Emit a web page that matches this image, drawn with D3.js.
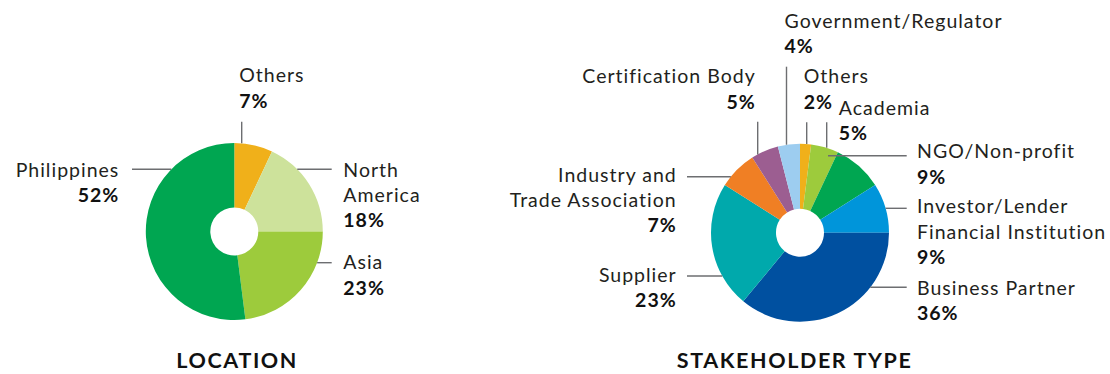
<!DOCTYPE html>
<html>
<head>
<meta charset="utf-8">
<script src="https://cdn.jsdelivr.net/npm/d3@7"></script>
<style>
  html, body { margin: 0; padding: 0; background: #fff; }
  svg { display: block; font-family: Lato, "Open Sans", sans-serif; }
  .lbl { font-size: 19.5px; letter-spacing: 1px; fill: #231f20; }
  .pct { font-size: 19.5px; letter-spacing: 1px; font-weight: 700; fill: #111; }
  .title { font-size: 21.5px; letter-spacing: 1.6px; font-weight: 700; fill: #111; }
  .leader { stroke: #6d6e71; stroke-width: 1.4; fill: none; }
</style>
</head>
<body>
<svg id="chart" width="1110" height="374"></svg>
<script>
// ---- data ----
const locationLabels = ["Others", "North\nAmerica", "Asia", "Philippines"];
const locationValues = [7, 18, 23, 52];
const locationColors = ["#f0b01a", "#cde29b", "#9dcb3c", "#00a651"];

const stakeholderLabels = [
  "Others", "Academia", "NGO/Non-profit", "Investor/Lender\nFinancial Institution",
  "Business Partner", "Supplier", "Industry and\nTrade Association",
  "Certification Body", "Government/Regulator"
];
const stakeholderValues = [2, 5, 9, 9, 36, 23, 7, 5, 4];
const stakeholderColors = ["#f0b01a", "#9dcb3c", "#00a651", "#0095da", "#0050a0",
  "#00a9ac", "#f07f24", "#9c5e91", "#9dcdf0"];

const titles = ["LOCATION", "STAKEHOLDER TYPE"];

// ---- label placement (leader line + text block per slice) ----
// kind "top": vertical leader at x from y down to the rim
// kind "left"/"right": horizontal leader at y from x to the rim
const locationLayout = [
  { kind: "top",   x: 241.7, y: 121.7, tx: 239.3, ty: 82.3,  anchor: "start" },
  { kind: "right", x: 331.7, y: 169.3, tx: 343.3, ty: 176.5, anchor: "start" },
  { kind: "right", x: 331.7, y: 262.7, tx: 343.3, ty: 269.3, anchor: "start" },
  { kind: "left",  x: 132,   y: 169.3, tx: 119.3, ty: 176.7, anchor: "end" }
];
const stakeholderLayout = [
  { kind: "top",   x: 806.7, y: 122.3, tx: 803.8, ty: 83.3,  anchor: "start" },
  { kind: "top",   x: 826.7, y: 122.3, tx: 838.8, ty: 115,   anchor: "start" },
  { kind: "right", x: 906.7, y: 155.7, tx: 917,   ty: 158.3, anchor: "start", stop: 828 },
  { kind: "right", x: 906.7, y: 208.3, tx: 917,   ty: 213.3, anchor: "start" },
  { kind: "right", x: 906.7, y: 287.3, tx: 917,   ty: 295,   anchor: "start" },
  { kind: "left",  x: 687,   y: 276,   tx: 676.7, ty: 281.7, anchor: "end" },
  { kind: "left",  x: 687,   y: 176.7, tx: 676.7, ty: 181.7, anchor: "end" },
  { kind: "top",   x: 757.7, y: 121.7, tx: 755.7, ty: 83.3,  anchor: "end" },
  { kind: "top",   x: 786.5, y: 66.7,  tx: 784.5, ty: 27.5,  anchor: "start" }
];

const svg = d3.select("#chart");
const lineGap = 25.3;

function donut(cfg) {
  const { cx, cy, r, r0, labels, values, colors, layout, title, titleX } = cfg;
  const g = svg.append("g");
  const pie = d3.pie().sort(null).value(d => d)(values);
  const arc = d3.arc().innerRadius(r0).outerRadius(r);

  g.append("g").attr("transform", `translate(${cx},${cy})`)
    .selectAll("path").data(pie).join("path")
    .attr("d", arc)
    .attr("fill", (d, i) => colors[i]);

  layout.forEach((L, i) => {
    let x1, y1, x2, y2;
    if (L.kind === "top") {
      x1 = x2 = L.x; y1 = L.y;
      y2 = cy - Math.sqrt(r * r - (L.x - cx) ** 2);
    } else {
      y1 = y2 = L.y; x1 = L.x;
      const dx = Math.sqrt(r * r - (L.y - cy) ** 2);
      x2 = L.stop != null ? L.stop : (L.kind === "right" ? cx + dx : cx - dx);
    }
    g.append("line").attr("class", "leader")
      .attr("x1", x1).attr("y1", y1).attr("x2", x2).attr("y2", y2);

    const lines = labels[i].split("\n");
    const t = g.append("text").attr("text-anchor", L.anchor);
    lines.forEach((s, k) => {
      t.append("tspan").attr("class", "lbl")
        .attr("x", L.tx).attr("y", L.ty + k * lineGap).text(s);
    });
    t.append("tspan").attr("class", "pct")
      .attr("x", L.tx).attr("y", L.ty + lines.length * lineGap)
      .text(values[i] + "%");
  });

  svg.append("text").attr("class", "title")
    .attr("x", titleX).attr("y", 368.3)
    .attr("text-anchor", "middle").text(title);
}

donut({ cx: 234.3, cy: 231.5, r: 88.5, r0: 24, labels: locationLabels,
  values: locationValues, colors: locationColors, layout: locationLayout,
  title: titles[0], titleX: 237.2 });
donut({ cx: 800, cy: 232.7, r: 89, r0: 24, labels: stakeholderLabels,
  values: stakeholderValues, colors: stakeholderColors, layout: stakeholderLayout,
  title: titles[1], titleX: 794.6 });
</script>
</body>
</html>
